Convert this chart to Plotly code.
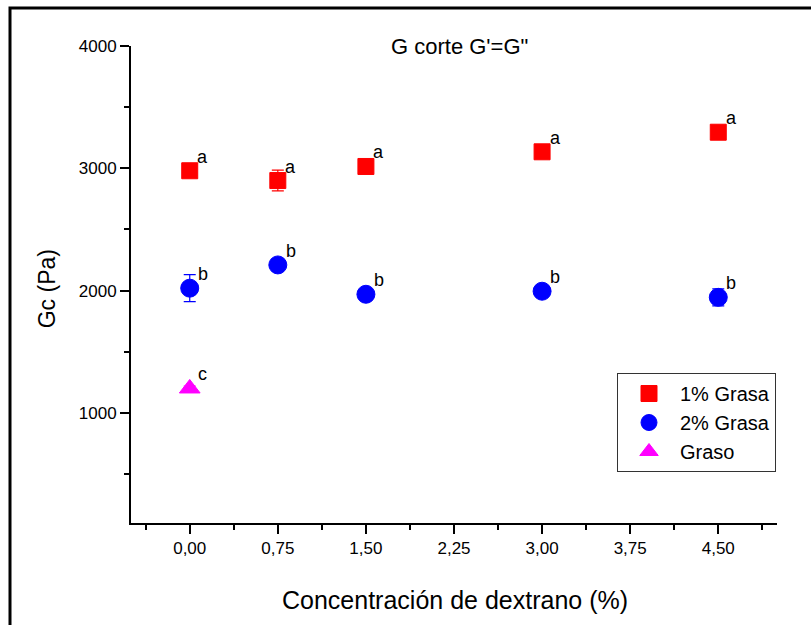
import plotly.graph_objects as go

# ---- data ----
dextrano = [0.0, 0.75, 1.5, 3.0, 4.5]
grasa1_vals = [2980, 2900, 3015, 3135, 3295]
grasa1_err = [30, 85, 30, 50, 30]
grasa1_lbl = ["a", "a", "a", "a", "a"]
grasa2_vals = [2020, 2210, 1970, 1995, 1945]
grasa2_err = [110, 30, 30, 30, 70]
grasa2_lbl = ["b", "b", "b", "b", "b"]
graso_x = [0.0]
graso_vals = [1200]
graso_err = [20]
graso_lbl = ["c"]

x_tickvals = [0.0, 0.75, 1.5, 2.25, 3.0, 3.75, 4.5]
x_ticktext = ["0,00", "0,75", "1,50", "2,25", "3,00", "3,75", "4,50"]
x_minor = [-0.375, 0.375, 1.125, 1.875, 2.625, 3.375, 4.125, 4.875]
y_tickvals = [1000, 2000, 3000, 4000]
y_minor = [500, 1500, 2500, 3500]

FONT = "Liberation Sans, Arial, sans-serif"

fig = go.Figure()

def add_series(x, y, err, name, color, symbol, size):
    fig.add_trace(go.Scatter(
        x=x, y=y, mode="markers", name=name,
        marker=dict(symbol=symbol, size=size, color=color,
                    line=dict(width=1, color=color)),
        error_y=dict(type="data", array=err, visible=True, color=color,
                     thickness=1.2, width=6),
    ))

add_series(dextrano, grasa1_vals, grasa1_err, "1% Grasa", "#ff0000", "square", 16)
add_series(dextrano, grasa2_vals, grasa2_err, "2% Grasa", "#0000ff", "circle", 18)
add_series(graso_x, graso_vals, graso_err, "Graso", "#ff00ff", "triangle-up", 18)

annotations = []
for xs, ys, ls in [(dextrano, grasa1_vals, grasa1_lbl),
                   (dextrano, grasa2_vals, grasa2_lbl),
                   (graso_x, graso_vals, graso_lbl)]:
    for xv, yv, lab in zip(xs, ys, ls):
        annotations.append(dict(x=xv, y=yv, xref="x", yref="y", text=lab,
                                showarrow=False, xshift=13, yshift=14,
                                font=dict(family=FONT, size=18, color="black")))

annotations.append(dict(x=0.509, y=1.0, xref="paper", yref="paper",
                        text="G corte G'=G\"", showarrow=False,
                        xanchor="center", yanchor="middle",
                        font=dict(family=FONT, size=22, color="black")))
annotations.append(dict(x=0.502, y=-0.161, xref="paper", yref="paper",
                        text="Concentración de dextrano (%)", showarrow=False,
                        xanchor="center", yanchor="middle",
                        font=dict(family=FONT, size=25, color="black")))
annotations.append(dict(x=-0.130, y=0.49, xref="paper", yref="paper",
                        text="Gc (Pa)", showarrow=False, textangle=-90,
                        xanchor="center", yanchor="middle",
                        font=dict(family=FONT, size=23, color="black")))

L, R, T, B = 131, 34, 46, 102
W, H = 811, 625
pw, ph = W - L - R, H - T - B

def px_x(p):
    return (p - L) / pw

def px_y(p):
    return (H - B - p) / ph

fig.update_layout(
    width=W, height=H,
    margin=dict(l=L, r=R, t=T, b=B),
    paper_bgcolor="white", plot_bgcolor="white",
    font=dict(family=FONT, color="black"),
    showlegend=True,
    legend=dict(x=px_x(617), y=px_y(373), xanchor="left", yanchor="top",
                bordercolor="#333333", borderwidth=1, bgcolor="white",
                font=dict(family=FONT, size=20, color="black"),
                itemwidth=52, tracegroupgap=0),
    annotations=annotations,
    shapes=[dict(type="rect", xref="paper", yref="paper",
                 x0=px_x(10), x1=px_x(820), y0=px_y(640), y1=px_y(8),
                 line=dict(color="black", width=3), fillcolor="rgba(0,0,0,0)",
                 layer="above")],
)

fig.update_xaxes(
    range=[-0.5, 5.0], showgrid=False, zeroline=False,
    showline=True, linecolor="black", linewidth=2,
    tickmode="array", tickvals=x_tickvals, ticktext=x_ticktext,
    ticks="outside", ticklen=9, tickwidth=2, tickcolor="black",
    tickfont=dict(family=FONT, size=17, color="black"),
    minor=dict(tickmode="array", tickvals=x_minor, ticks="outside",
               ticklen=5, tickwidth=2, tickcolor="black", showgrid=False),
)
fig.update_yaxes(
    range=[100, 4000], showgrid=False, zeroline=False,
    showline=True, linecolor="black", linewidth=2,
    tickmode="array", tickvals=y_tickvals, ticktext=[str(v) for v in y_tickvals],
    ticks="outside", ticklen=9, tickwidth=2, tickcolor="black",
    tickfont=dict(family=FONT, size=17, color="black"),
    minor=dict(tickmode="array", tickvals=y_minor, ticks="outside",
               ticklen=5, tickwidth=2, tickcolor="black", showgrid=False),
)

fig.write_html("out.html")
